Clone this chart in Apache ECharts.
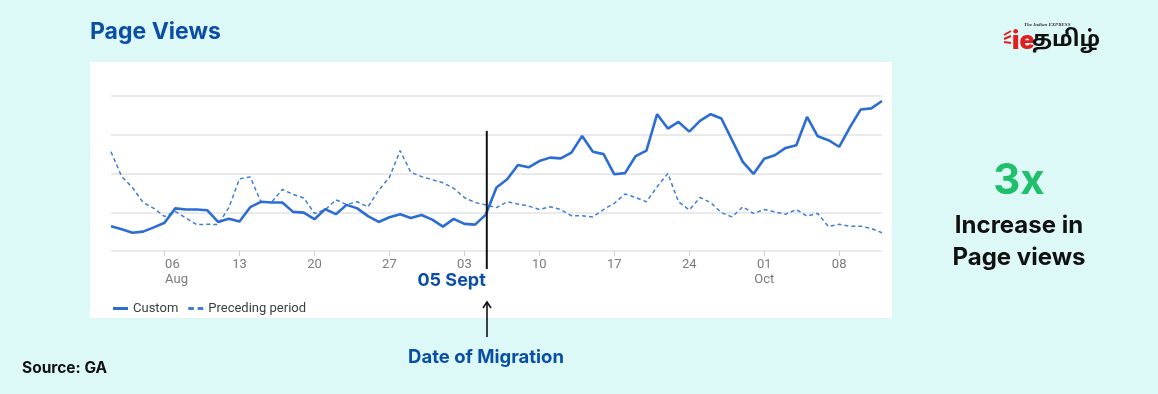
<!DOCTYPE html>
<html>
<head>
<meta charset="utf-8">
<script src="https://cdn.jsdelivr.net/npm/echarts@6/dist/echarts.min.js"></script>
<style>
html,body{margin:0;padding:0;background:#dcf8f7;}
#chart{width:1158px;height:394px;}
</style>
</head>
<body>
<div id="chart"></div>
<script>
// Dates (Aug 1 – Oct 12)
const dates = [
 '08-01','08-02','08-03','08-04','08-05','08-06','08-07','08-08','08-09','08-10',
 '08-11','08-12','08-13','08-14','08-15','08-16','08-17','08-18','08-19','08-20',
 '08-21','08-22','08-23','08-24','08-25','08-26','08-27','08-28','08-29','08-30',
 '08-31','09-01','09-02','09-03','09-04','09-05','09-06','09-07','09-08','09-09',
 '09-10','09-11','09-12','09-13','09-14','09-15','09-16','09-17','09-18','09-19',
 '09-20','09-21','09-22','09-23','09-24','09-25','09-26','09-27','09-28','09-29',
 '09-30','10-01','10-02','10-03','10-04','10-05','10-06','10-07','10-08','10-09',
 '10-10','10-11','10-12'
];
// Page views, current period ("Custom") – arbitrary units (gridline = 10)
const custom = [
 6.4,5.6,4.7,5.0,6.1,7.3,11.0,10.7,10.7,10.5,
 7.5,8.3,7.6,11.3,12.7,12.5,12.5,10.1,9.9,8.2,
 10.8,9.5,11.9,11.0,9.0,7.5,8.7,9.5,8.5,9.3,
 8.1,6.3,8.3,7.0,6.8,9.4,16.4,18.5,22.2,21.6,
 23.2,24.1,23.9,25.4,29.7,25.6,25.0,19.8,20.1,24.5,
 25.9,35.3,31.6,33.3,30.8,33.6,35.3,34.2,28.6,23.0,
 19.9,23.8,24.7,26.6,27.3,34.6,29.6,28.6,26.9,31.9,
 36.5,36.8,38.7
];
// Page views, preceding period
const preceding = [
 25.6,19.2,16.4,12.5,11.0,8.9,10.2,8.5,6.8,6.9,
 6.8,11.2,18.6,19.1,12.7,12.6,15.9,14.6,13.7,9.7,
 10.6,13.2,12.0,12.7,11.4,15.7,19.0,25.9,20.3,19.2,
 18.4,17.6,16.2,13.8,12.5,11.9,11.2,12.7,12.1,11.6,
 10.7,11.4,10.7,9.1,9.1,8.8,10.7,12.3,14.7,13.8,
 12.7,16.6,20.0,12.7,10.6,13.8,12.5,9.9,8.8,11.4,
 9.7,10.7,10.1,9.5,10.7,9.0,9.7,6.3,6.9,6.4,
 6.4,5.8,4.7
];
// Axis tick labels
const tickDates = ['08-06','08-13','08-20','08-27','09-03','09-10','09-17','09-24','10-01','10-08'];
const tickTexts = ['06\nAug','13','20','27','03','10','17','24','01\nOct','08'];
const migrationDate = '09-05';
const migrationLineTop = 31;

const chart = echarts.init(document.getElementById('chart'), null, {renderer:'canvas'});
const blue = '#2b6dd3';
const dashBlue = '#3f7ed8';
const FONT = 'Inter, "Open Sans", sans-serif';
const tickSet = new Set(tickDates);

chart.setOption({
  backgroundColor: '#dcf8f7',
  animation: false,
  grid: {left: 111, right: 276, top: 96, bottom: 143},
  legend: {
    left: 108, top: 297,
    itemWidth: 15, itemHeight: 3, itemGap: 10,
    textStyle: {fontFamily: 'Roboto', fontSize: 13, color: '#3c4043'},
    data: [
      {name: 'Custom', icon: 'rect', itemStyle: {color: blue}},
      {name: 'Preceding period', icon: 'path://M0,0H6V3H0Z M10,0H16V3H10Z', itemStyle: {color: dashBlue}}
    ]
  },
  xAxis: {
    type: 'category',
    data: dates,
    boundaryGap: false,
    axisLine: {show: false},
    axisTick: {
      show: true, length: 5, lineStyle: {color: '#d0d0d0'},
      interval: (i, v) => tickSet.has(v)
    },
    axisLabel: {
      interval: (i, v) => tickSet.has(v),
      fontFamily: 'Roboto', fontSize: 13, color: '#7a7a7a', lineHeight: 15, margin: 6,
      formatter: (v) => {
        const t = tickTexts[tickDates.indexOf(v)];
        if (v === tickDates[0]) {
          const p = t.split('\n');
          return '{m|' + p[0] + '}\n{m|' + p[1] + '}';
        }
        return t;
      },
      rich: {m: {fontFamily: 'Roboto', fontSize: 13, color: '#7a7a7a', lineHeight: 15, align: 'left', padding: [0,0,0,24]}}
    },
    splitLine: {show: false}
  },
  yAxis: {
    type: 'value', min: 0, max: 40, interval: 10,
    axisLabel: {show: false}, axisLine: {show: false}, axisTick: {show: false},
    splitLine: {lineStyle: {color: '#e3e3e3', width: 1.5}}
  },
  series: [
    {
      name: 'Custom', type: 'line', data: custom,
      showSymbol: false, symbol: 'none', z: 5,
      lineStyle: {color: blue, width: 2.6},
      itemStyle: {color: blue}
    },
    {
      name: 'Preceding period', type: 'line', data: preceding,
      showSymbol: false, symbol: 'none', z: 4,
      lineStyle: {color: dashBlue, width: 1.5, type: [4, 3]},
      itemStyle: {color: dashBlue}
    }
  ]
});

// Migration marker positioned through the chart's own scales
const mx = chart.convertToPixel({xAxisIndex: 0}, migrationDate);
const myTop = chart.convertToPixel({yAxisIndex: 0}, migrationLineTop);
const myBase = chart.convertToPixel({yAxisIndex: 0}, 0);
const ax = Math.round(mx) + 1;

chart.setOption({
  graphic: [
    {type: 'rect', z: -10, silent: true, shape: {x: 90, y: 62, width: 802, height: 256}, style: {fill: '#ffffff'}},
    {type: 'text', left: 90, top: 21, style: {text: 'Page Views', font: '700 23px ' + FONT, fill: '#0b4ea6'}},
    {type: 'text', left: 22, top: 360, style: {text: 'Source: GA', font: '700 15.5px ' + FONT, fill: '#111'}},
    // Migration annotations
    {type: 'line', z: 10, shape: {x1: mx + 1, y1: myTop, x2: mx + 1, y2: myBase + 18}, style: {stroke: '#111', lineWidth: 2}},
    {type: 'text', x: mx, y: 281, style: {text: '05 Sept', font: '700 18px ' + FONT, fill: '#0b4ea6', align: 'right', verticalAlign: 'middle'}},
    {type: 'line', shape: {x1: ax, y1: 337, x2: ax, y2: 303}, style: {stroke: '#111', lineWidth: 1.6}},
    {type: 'polyline', shape: {points: [[ax - 4, 308], [ax, 302], [ax + 4, 308]]}, style: {stroke: '#111', lineWidth: 1.6, fill: null}},
    {type: 'text', x: ax - 1, y: 357, style: {text: 'Date of Migration', font: '700 18.5px ' + FONT, fill: '#0b4ea6', align: 'center', verticalAlign: 'middle'}},
    // Right side callout
    {type: 'text', x: 1019, y: 181, style: {text: '3x', font: '700 42px ' + FONT, fill: '#1fbf6c', align: 'center', verticalAlign: 'middle'}},
    {type: 'text', x: 1019, y: 226, style: {text: 'Increase in', font: '700 24px ' + FONT, fill: '#111', align: 'center', verticalAlign: 'middle'}},
    {type: 'text', x: 1019, y: 258, style: {text: 'Page views', font: '700 24px ' + FONT, fill: '#111', align: 'center', verticalAlign: 'middle'}},
    // Logo
    {type: 'line', shape: {x1: 1004, y1: 35, x2: 1011, y2: 31}, style: {stroke: '#e02020', lineWidth: 2}},
    {type: 'line', shape: {x1: 1004, y1: 39, x2: 1011, y2: 36}, style: {stroke: '#e02020', lineWidth: 2}},
    {type: 'line', shape: {x1: 1004, y1: 42, x2: 1011, y2: 43}, style: {stroke: '#e02020', lineWidth: 2}},
    {type: 'text', x: 1024, y: 25, style: {text: 'The Indian EXPRESS', font: 'italic 700 5px "Liberation Serif", serif', fill: '#333', verticalAlign: 'middle'}},
    {type: 'text', x: 1012, y: 41, style: {text: 'ie', font: '900 25px ' + FONT, fill: '#e02020', verticalAlign: 'middle'}},
    {type: 'text', x: 1032, y: 42, style: {text: 'தமிழ்', font: '700 22px "Noto Sans Tamil", "Noto Sans", sans-serif', fill: '#111', verticalAlign: 'middle'}}
  ]
});
</script>
</body>
</html>
